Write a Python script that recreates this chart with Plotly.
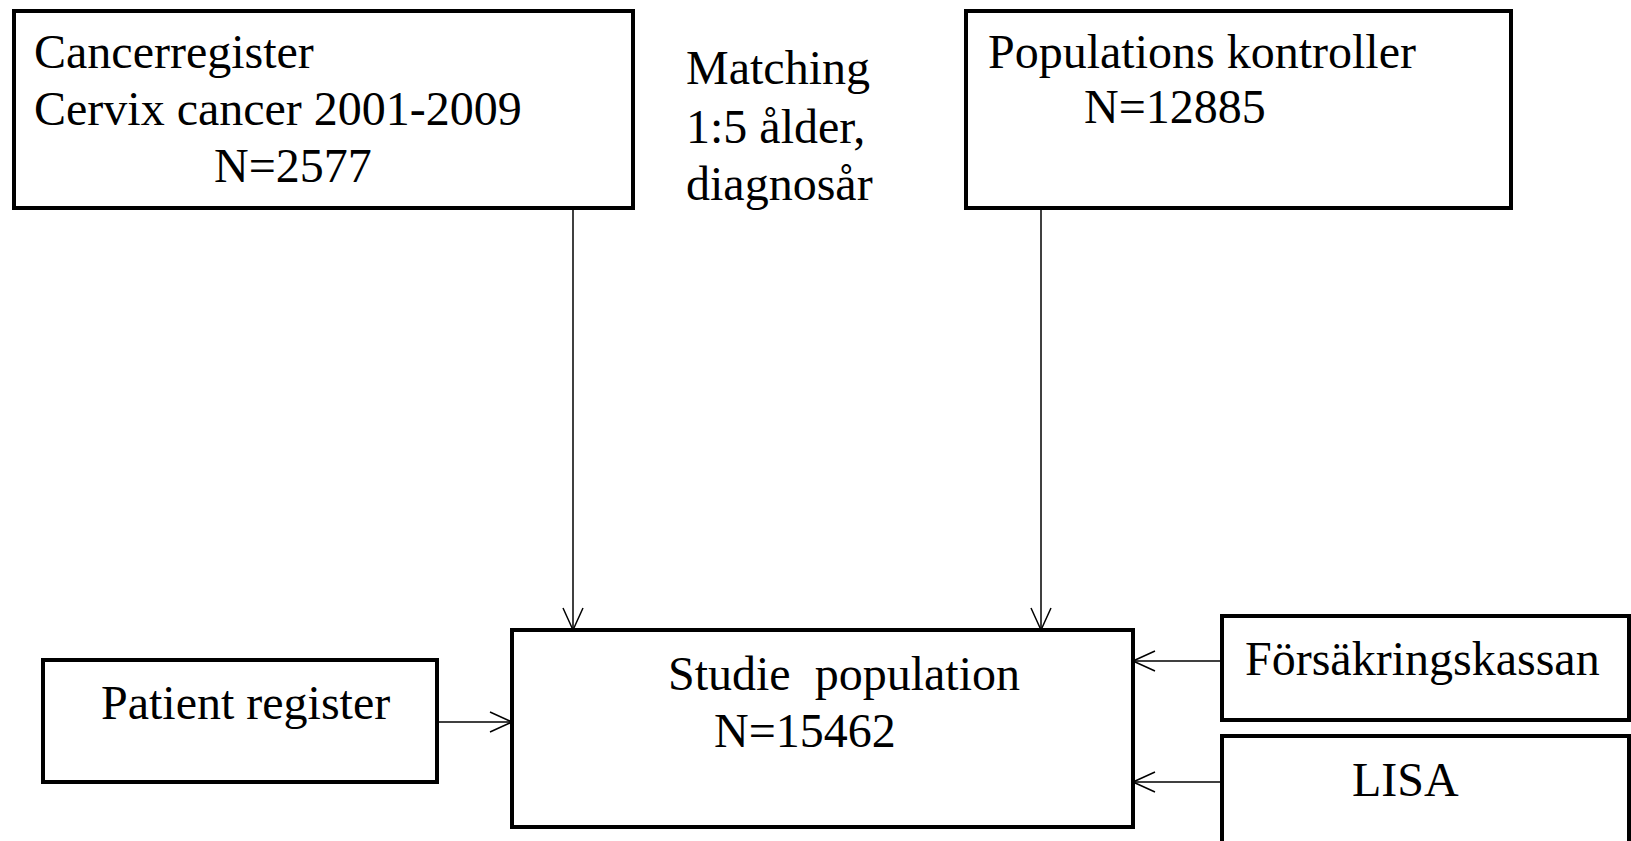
import plotly.graph_objects as go

W, H = 1631, 841

# Boxes (pixel space of the diagram)
box_names = ["Cancerregister", "Populations kontroller", "Studie population",
             "Patient register", "Försäkringskassan", "LISA"]
box_x0 = [14, 966, 512, 43, 1222, 1222]
box_x1 = [633, 1511, 1133, 437, 1629, 1629]
box_y0 = [11, 11, 630, 660, 616, 736]
box_y1 = [208, 208, 827, 782, 720, 848]

# Text lines
text_lines = ["Cancerregister", "Cervix cancer 2001-2009", "N=2577",
              "Matching", "1:5 ålder,", "diagnosår",
              "Populations kontroller", "N=12885",
              "Studie  population", "N=15462",
              "Patient register", "Försäkringskassan", "LISA"]
text_x = [32, 32, 212, 684, 684, 684, 986, 1082, 666, 712, 99, 1243, 1350]
text_y = [51, 108, 165, 67, 126, 183, 51, 106, 673, 730, 702, 658, 779]

# Connections: (source box index, target box index, coordinate along side)
arrow_src = [0, 1, 3, 4, 5]
arrow_dst = [2, 2, 2, 2, 2]
arrow_pos = [573, 1041, 722, 661, 782]

fig = go.Figure()

for i in range(len(box_names)):
    fig.add_shape(type="rect", xref="x", yref="y",
                  x0=box_x0[i], x1=box_x1[i], y0=box_y0[i], y1=box_y1[i],
                  line=dict(color="black", width=4), fillcolor="rgba(0,0,0,0)")

head_len, head_half = 22, 10
for s, d, p in zip(arrow_src, arrow_dst, arrow_pos):
    if box_y1[s] < box_y0[d]:
        xs = [p, p]
        ys = [box_y1[s], box_y0[d]]
        hx = [p - head_half, p, p + head_half]
        hy = [box_y0[d] - head_len, box_y0[d], box_y0[d] - head_len]
    elif box_x1[s] < box_x0[d]:
        xs = [box_x1[s], box_x0[d]]
        ys = [p, p]
        hx = [box_x0[d] - head_len, box_x0[d], box_x0[d] - head_len]
        hy = [p - head_half, p, p + head_half]
    else:
        xs = [box_x0[s], box_x1[d]]
        ys = [p, p]
        hx = [box_x1[d] + head_len, box_x1[d], box_x1[d] + head_len]
        hy = [p - head_half, p, p + head_half]
    fig.add_trace(go.Scatter(x=xs, y=ys, mode="lines",
                             line=dict(color="black", width=1.5),
                             hoverinfo="skip", showlegend=False))
    fig.add_trace(go.Scatter(x=hx, y=hy, mode="lines",
                             line=dict(color="black", width=1.5),
                             hoverinfo="skip", showlegend=False))

for t, x, y in zip(text_lines, text_x, text_y):
    fig.add_annotation(x=x, y=y, xref="x", yref="y", text=t, showarrow=False,
                       xanchor="left", yanchor="middle",
                       font=dict(family="Liberation Serif", size=48, color="black"))

fig.update_layout(width=W, height=H, margin=dict(l=0, r=0, t=0, b=0),
                  plot_bgcolor="white", paper_bgcolor="white",
                  xaxis=dict(range=[0, W], visible=False, fixedrange=True),
                  yaxis=dict(range=[H, 0], visible=False, fixedrange=True))

fig.write_html("out.html", config={"displayModeBar": False},
               post_script="document.body.style.margin='0';document.body.style.overflow='hidden';")
